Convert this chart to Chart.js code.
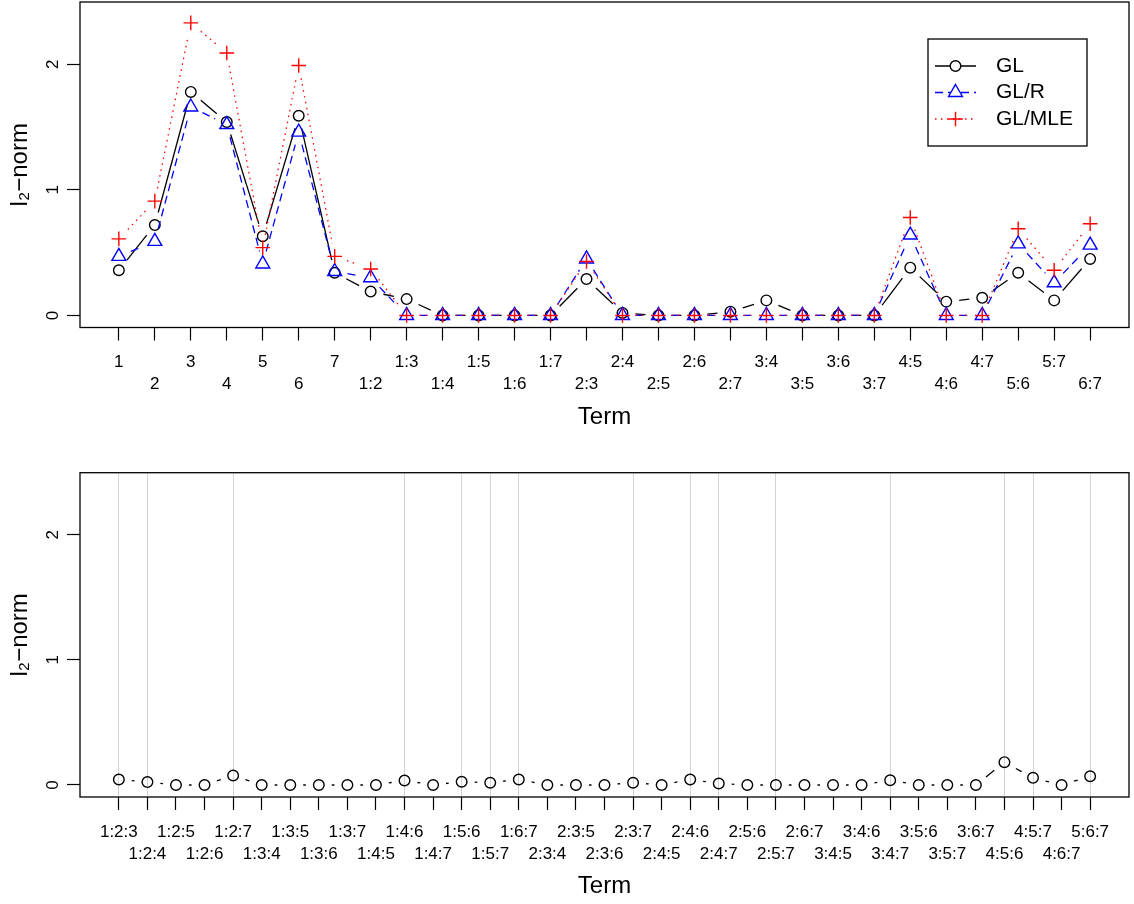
<!DOCTYPE html>
<html>
<head>
<meta charset="utf-8">
<script src="https://cdn.jsdelivr.net/npm/chart.js@4.4.0/dist/chart.umd.min.js"></script>
<style>
  html, body { margin: 0; padding: 0; background: #fff; }
  #wrap { position: relative; width: 1134px; height: 904px; }
  canvas { position: absolute; left: 0; }
  #mainChart { top: 0; }
  #threeWayChart { top: 452px; }
</style>
</head>
<body>
<div id="wrap">
  <canvas id="mainChart" width="1134" height="452"></canvas>
  <canvas id="threeWayChart" width="1134" height="452"></canvas>
</div>
<script>
// main effects + two-way terms (top panel)
const mainTerms = ['1', '2', '3', '4', '5', '6', '7',
  '1:2', '1:3', '1:4', '1:5', '1:6', '1:7', '2:3', '2:4', '2:5', '2:6', '2:7',
  '3:4', '3:5', '3:6', '3:7', '4:5', '4:6', '4:7', '5:6', '5:7', '6:7'];
const glValues = [0.36, 0.72, 1.78, 1.54, 0.63, 1.59, 0.34, 0.19, 0.13, 0, 0, 0, 0, 0.29,
  0.02, 0, 0, 0.03, 0.12, 0, 0, 0, 0.38, 0.11, 0.14, 0.34, 0.12, 0.45];
const glrValues = [0.47, 0.59, 1.66, 1.52, 0.41, 1.46, 0.35, 0.30, 0, 0, 0, 0, 0, 0.45,
  0, 0, 0, 0, 0, 0, 0, 0, 0.64, 0, 0, 0.57, 0.26, 0.56];
const glmleValues = [0.61, 0.91, 2.33, 2.09, 0.54, 1.99, 0.47, 0.37, 0, 0, 0, 0, 0, 0.43,
  0, 0, 0, 0, 0, 0, 0, 0, 0.78, 0, 0, 0.69, 0.36, 0.73];

// three-way terms (bottom panel)
const threeWayTerms = ['1:2:3', '1:2:4', '1:2:5', '1:2:6', '1:2:7', '1:3:4', '1:3:5', '1:3:6',
  '1:3:7', '1:4:5', '1:4:6', '1:4:7', '1:5:6', '1:5:7', '1:6:7', '2:3:4', '2:3:5', '2:3:6',
  '2:3:7', '2:4:5', '2:4:6', '2:4:7', '2:5:6', '2:5:7', '2:6:7', '3:4:5', '3:4:6', '3:4:7',
  '3:5:6', '3:5:7', '3:6:7', '4:5:6', '4:5:7', '4:6:7', '5:6:7'];
const threeWayValues = [0.044, 0.023, 0, 0, 0.076, 0, 0, 0, 0, 0, 0.036, 0, 0.026, 0.018,
  0.044, 0, 0, 0, 0.018, 0, 0.044, 0.012, 0, 0, 0, 0, 0, 0.038, 0, 0, 0, 0.182, 0.057, 0, 0.07];
// terms marked with a grey vertical line
const markedTerms = ['1:2:3', '1:2:4', '1:2:7', '1:4:6', '1:5:6', '1:5:7', '1:6:7', '2:3:7',
  '2:4:6', '2:4:7', '2:5:7', '3:4:7', '4:5:6', '4:5:7', '5:6:7'];

const yTicks = [0, 1, 2];
const yLimits = [0, 2.4];

const FONT = '"Liberation Sans", Arial, Helvetica, sans-serif';
const GAP = 13;

// dash array that leaves a gap round both points, like R's type="b"
function gapDash(len, pattern) {
  const inner = len - 2 * GAP;
  if (inner <= 0) return [0, len];
  const out = [0, GAP];
  let used = 0, k = 0;
  while (used < inner) {
    const seg = Math.min(pattern[k % pattern.length], inner - used);
    out.push(seg);
    used += seg;
    k++;
  }
  if (out.length % 2 === 1) out.push(GAP);
  else out[out.length - 1] += GAP;
  return out;
}
function gapped(pattern) {
  return ctx => gapDash(Math.hypot(ctx.p1.x - ctx.p0.x, ctx.p1.y - ctx.p0.y), pattern);
}

function lineSet(label, values, color, pattern, pointStyle, radius, order) {
  return {
    label: label,
    order: order,
    data: values.map((v, i) => ({ x: i + 1, y: v })),
    borderColor: color,
    borderWidth: 1.3,
    pointStyle: pointStyle,
    pointRadius: radius,
    pointBorderColor: color,
    pointBorderWidth: 1.4,
    pointBackgroundColor: 'rgba(0,0,0,0)',
    tension: 0,
    fill: false,
    legendDash: pattern[0] > 1000 ? [] : pattern,
    segment: { borderDash: gapped(pattern) }
  };
}

const boxPlugin = {
  id: 'rBox',
  afterDraw(chart) {
    const { ctx, chartArea: a } = chart;
    ctx.save();
    ctx.strokeStyle = '#000';
    ctx.lineWidth = 1.3;
    ctx.strokeRect(a.left, a.top, a.right - a.left, a.bottom - a.top);
    // y tick labels, rotated like R's las=0
    const s = chart.scales.y;
    ctx.fillStyle = '#000';
    ctx.font = '17px ' + FONT;
    ctx.textAlign = 'center';
    ctx.textBaseline = 'middle';
    s.ticks.forEach(t => {
      ctx.save();
      ctx.translate(s.right - 27, s.getPixelForValue(t.value));
      ctx.rotate(-Math.PI / 2);
      ctx.fillText(String(t.value), 0, 0);
      ctx.restore();
    });
    ctx.restore();
  }
};

function marker(ctx, style, r, x, y) {
  ctx.beginPath();
  if (style === 'circle') {
    ctx.arc(x, y, r, 0, Math.PI * 2);
    ctx.fill();
  } else if (style === 'triangle') {
    ctx.moveTo(x, y - r);
    ctx.lineTo(x + r * Math.sqrt(3) / 2, y + r / 2);
    ctx.lineTo(x - r * Math.sqrt(3) / 2, y + r / 2);
    ctx.closePath();
    ctx.fill();
  } else {
    ctx.moveTo(x - r, y); ctx.lineTo(x + r, y);
    ctx.moveTo(x, y - r); ctx.lineTo(x, y + r);
  }
  ctx.stroke();
}

const legendPlugin = {
  id: 'rLegend',
  afterDraw(chart) {
    const { ctx, chartArea } = chart;
    const w = 159, h = 107;
    const left = chartArea.right - 42 - w, top = chartArea.top + 37;
    ctx.save();
    ctx.fillStyle = '#fff';
    ctx.fillRect(left, top, w, h);
    ctx.strokeStyle = '#000';
    ctx.lineWidth = 1.3;
    ctx.strokeRect(left, top, w, h);
    chart.data.datasets.forEach((ds, i) => {
      const y = top + 27 + i * 26.5;
      ctx.strokeStyle = ds.borderColor;
      ctx.lineWidth = ds.borderWidth;
      ctx.setLineDash(ds.legendDash);
      ctx.beginPath();
      ctx.moveTo(left + 7, y);
      ctx.lineTo(left + 48, y);
      ctx.stroke();
      ctx.setLineDash([]);
      ctx.fillStyle = '#fff';
      ctx.lineWidth = ds.pointBorderWidth;
      marker(ctx, ds.pointStyle, ds.pointRadius, left + 27.5, y);
      ctx.fillStyle = '#000';
      ctx.font = '21px ' + FONT;
      ctx.textAlign = 'left';
      ctx.textBaseline = 'middle';
      ctx.fillText(ds.label, left + 68, y);
    });
    ctx.restore();
  }
};

function panelConfig(terms, datasets, opts) {
  const n = terms.length;
  const yPad = 0.04 * (yLimits[1] - yLimits[0]);
  return {
    type: 'line',
    data: { datasets: datasets },
    options: {
      responsive: false,
      animation: false,
      devicePixelRatio: 1,
      events: [],
      layout: { autoPadding: false, padding: { top: opts.padTop, right: 5, left: 0, bottom: 0 } },
      plugins: { legend: { display: false }, tooltip: { enabled: false } },
      scales: {
        x: {
          type: 'linear',
          min: 1 - 0.04 * (n - 1),
          max: n + 0.04 * (n - 1),
          afterBuildTicks: s => { s.ticks = terms.map((t, i) => ({ value: i + 1 })); },
          afterFit: s => { s.height = opts.xHeight; },
          border: { display: false },
          grid: {
            drawOnChartArea: !!opts.marked,
            color: ctx => (opts.marked && ctx.tick && opts.marked.includes(terms[ctx.tick.value - 1]))
              ? '#d3d3d3' : 'rgba(0,0,0,0)',
            lineWidth: 1,
            tickLength: 13,
            tickColor: '#000',
            tickWidth: 1.2
          },
          ticks: {
            autoSkip: false,
            maxRotation: 0,
            minRotation: 0,
            padding: 11,
            color: '#000',
            font: { family: FONT, size: 17, lineHeight: '22px' },
            callback: (v, i) => i % 2 === 0 ? [terms[i], ''] : ['', terms[i]]
          },
          title: {
            display: true,
            text: 'Term',
            color: '#000',
            font: { family: FONT, size: 24 },
            padding: { top: 0, bottom: opts.titlePad }
          }
        },
        y: {
          min: yLimits[0] - yPad,
          max: yLimits[1] + yPad,
          afterBuildTicks: s => { s.ticks = yTicks.map(v => ({ value: v })); },
          afterFit: s => { s.width = 80; },
          border: { display: false },
          grid: { drawOnChartArea: false, tickLength: 13, tickColor: '#000', tickWidth: 1.2 },
          ticks: { display: false },
          title: {
            display: true,
            text: 'l\u2082\u2212norm',
            color: '#000',
            font: { family: FONT, size: 24 },
            padding: { top: 6, bottom: 0 }
          }
        }
      }
    },
    plugins: opts.legend ? [boxPlugin, legendPlugin] : [boxPlugin]
  };
}

const SOLID = [1e6];

new Chart(document.getElementById('mainChart'), panelConfig(mainTerms, [
  lineSet('GL', glValues, '#000000', SOLID, 'circle', 5.3, 2),
  lineSet('GL/R', glrValues, '#0000ff', [8, 5], 'triangle', 8, 1),
  lineSet('GL/MLE', glmleValues, '#ff0000', [1.5, 4.5], 'cross', 7.3, 0)
], { padTop: 2, xHeight: 124.5, titlePad: 20, legend: true }));

new Chart(document.getElementById('threeWayChart'), panelConfig(threeWayTerms, [
  lineSet('GL', threeWayValues, '#000000', SOLID, 'circle', 5.3, 0)
], { padTop: 20.7, xHeight: 107, titlePad: 3, marked: markedTerms }));
</script>
</body>
</html>
